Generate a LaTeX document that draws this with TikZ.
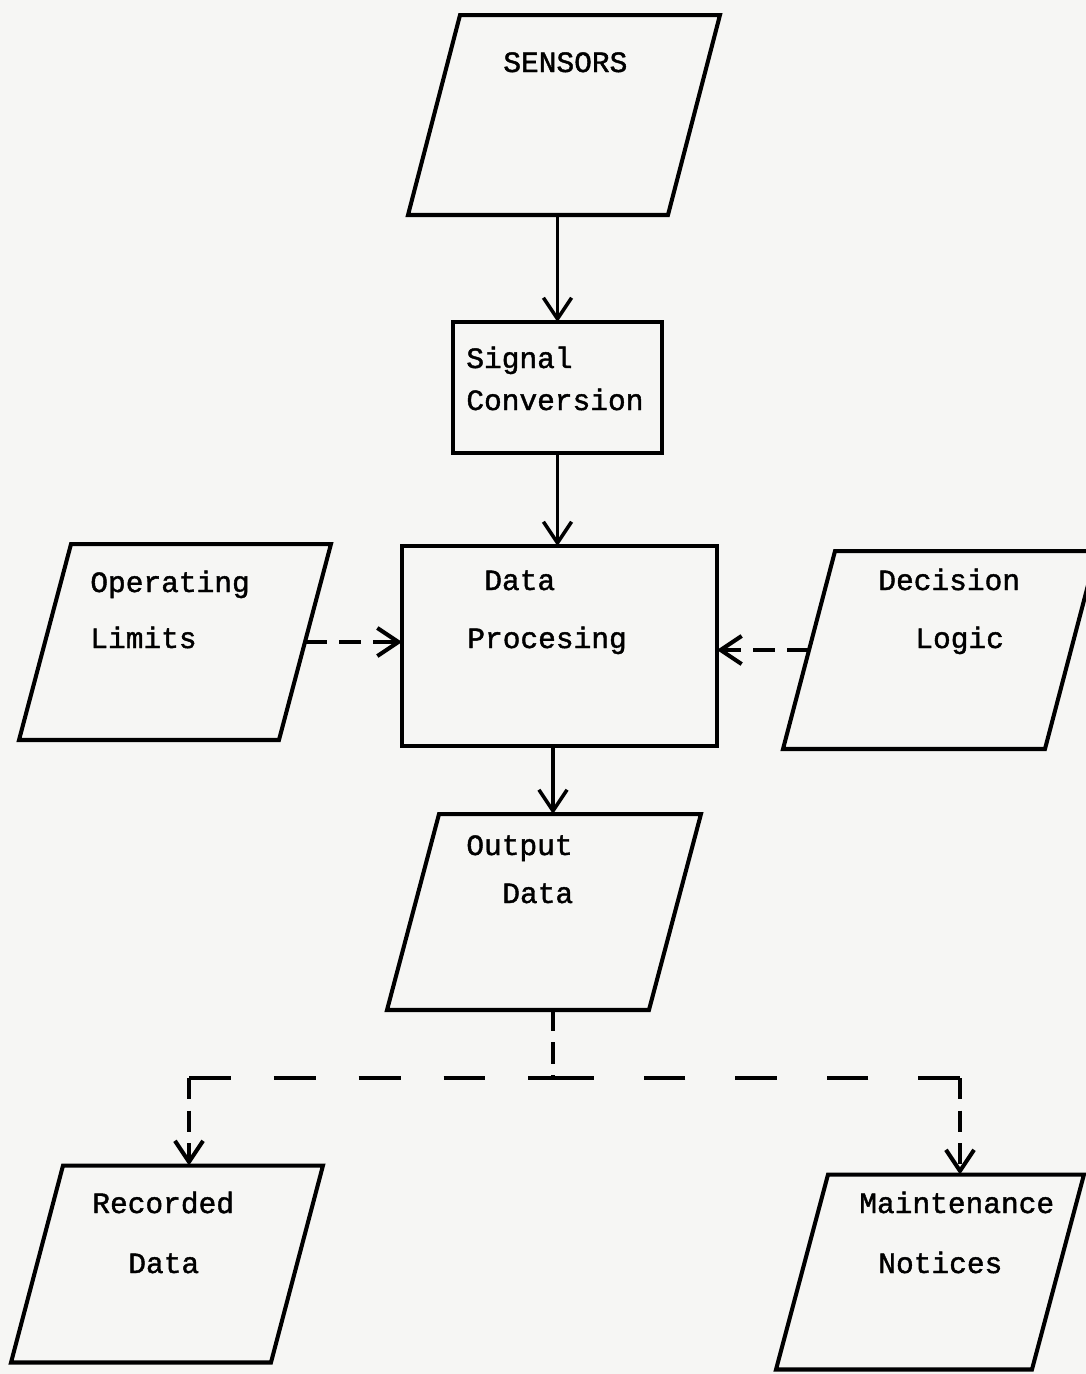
\documentclass[tikz,border=0pt]{standalone}
\usepackage{fontspec}
\setmonofont[FakeBold=1.4]{Liberation Mono}
\usetikzlibrary{arrows.meta,calc}
\definecolor{paper}{RGB}{246,246,244}
\begin{document}
\begin{tikzpicture}[x=0.02cm,y=-0.02cm,
  outline/.style={line width=2.3pt, line join=miter},
  body/.style={inner sep=0pt, outer sep=0pt},
  rectbox/.style={body, draw, line width=2.3pt},
  txt/.style={font=\ttfamily\fontsize{16.8pt}{20pt}\selectfont, inner sep=0pt, anchor=base west},
  tip/.style={-{Straight Barb[length=12pt,width=16pt]}},
  arr/.style={line width=2pt, tip},
  shortdash/.style={line width=2.3pt, dash pattern=on 12.5pt off 7pt, tip},
  leftdash/.style={line width=2.3pt, dash pattern=on 23.8pt off 24.5pt},
  rightdash/.style={line width=2.3pt, dash pattern=on 23.8pt off 28.3pt},
  drop/.style={line width=2.3pt, dash pattern=on 12pt off 6.5pt},
  droparr/.style={drop, tip}]

% page
\fill[paper] (0,0) rectangle (1086,1374);
\useasboundingbox (0,0) rectangle (1086,1374);

% parallelogram bodies (mid-height width), outlines drawn below
\node[body, minimum width=5.2cm,  minimum height=4cm]    (sen) at (564,115)  {};
\node[body, minimum width=5.2cm,  minimum height=3.92cm] (ol)  at (175,642)  {};
\node[body, minimum width=5.24cm, minimum height=3.96cm] (dl)  at (940,650)  {};
\node[body, minimum width=5.24cm, minimum height=3.92cm] (od)  at (544,912)  {};
\node[body, minimum width=5.2cm,  minimum height=3.94cm] (rd)  at (167,1264) {};
\node[body, minimum width=5.12cm, minimum height=3.9cm]  (mn)  at (930,1272) {};

\foreach \n in {sen,ol,dl,od,rd,mn}
  \draw[outline] ($(\n.south west)+(-26,0)$) -- ($(\n.south east)+(-26,0)$)
    -- ($(\n.north east)+(26,0)$) -- ($(\n.north west)+(26,0)$) -- cycle;

% process boxes
\node[rectbox, minimum width=4.18cm, minimum height=2.62cm] (sc) at (557.5,387.5) {};
\node[rectbox, minimum width=6.3cm,  minimum height=4cm]    (dp) at (559.5,646)   {};

% labels
\node[txt] (sen-t)  at (503,72)   {SENSORS};
\node[txt] (sc-t1)  at (466,368)  {Signal};
\node[txt] (sc-t2)  at (466,410)  {Conversion};
\node[txt] (dp-t1)  at (484,590)  {Data};
\node[txt] (dp-t2)  at (467,648)  {Procesing};
\node[txt] (ol-t1)  at (90,592)   {Operating};
\node[txt] (ol-t2)  at (90,648)   {Limits};
\node[txt] (dl-t1)  at (878,590)  {Decision};
\node[txt] (dl-t2)  at (915,648)  {Logic};
\node[txt] (od-t1)  at (466,855)  {Output};
\node[txt] (od-t2)  at (502,903)  {Data};
\node[txt] (rd-t1)  at (92,1213)  {Recorded};
\node[txt] (rd-t2)  at (128,1273) {Data};
\node[txt] (mn-t1)  at (859,1213) {Maintenance};
\node[txt] (mn-t2)  at (878,1273) {Notices};

% main flow
\coordinate (spine) at (553,0);
\draw[arr] (sc.north |- sen.south) -- (sc.north);
\draw[arr] (sc.south) -- (sc.south |- dp.north);
\draw[arr] (dp.south -| spine) -- (od.north -| spine);

% limits and logic feeding the processor
\draw[shortdash] (ol.east) -- (ol.east -| dp.west);
\draw[shortdash] (dl.west) -- (dl.west -| dp.east);

% output branches
\coordinate (split) at (553,1078);
\coordinate (cL) at (189,1078);
\coordinate (cR) at (960,1078);
\draw[drop] (od.south -| spine) -- (split);
\draw[leftdash] (cL) -- (split);
\draw[rightdash] (cR) -- (split);
\draw[droparr] (cL) -- (cL |- rd.north);
\draw[droparr] (cR) -- (cR |- mn.north);
\end{tikzpicture}
\end{document}
